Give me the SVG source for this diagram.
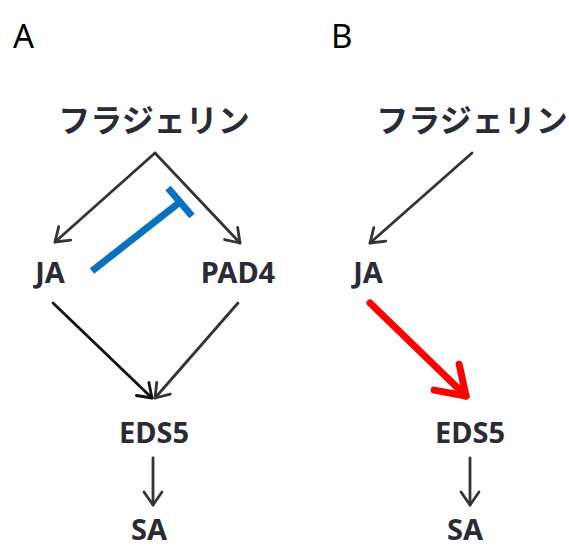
<svg xmlns="http://www.w3.org/2000/svg" width="569" height="547" viewBox="0 0 569 547">
<style>
.lbl{font-family:"Noto Sans","Noto Sans CJK JP",sans-serif;font-weight:bold;fill:#2b2b36;text-anchor:middle}
.jp{font-size:32px}
.en{font-size:29px}
.panel{font-family:"Noto Sans","Liberation Sans",sans-serif;font-size:33px;fill:#000}
.ar{fill:none;stroke:#333338;stroke-width:2.8;stroke-linecap:round}
</style>
<defs>
<marker id="ah" markerUnits="userSpaceOnUse" orient="auto" overflow="visible" markerWidth="20" markerHeight="20" refX="0" refY="0">
<path d="M-13,-9 L0,0 L-13,9" fill="none" stroke="#333338" stroke-width="2.8" stroke-linecap="round" stroke-linejoin="round"/>
</marker>
<marker id="ahk" markerUnits="userSpaceOnUse" orient="auto" overflow="visible" markerWidth="20" markerHeight="20" refX="0" refY="0">
<path d="M-13,-9 L0,0 L-13,9" fill="none" stroke="#111" stroke-width="2.8" stroke-linecap="round" stroke-linejoin="round"/>
</marker>
<marker id="ahr" markerUnits="userSpaceOnUse" orient="auto" overflow="visible" markerWidth="40" markerHeight="40" refX="0" refY="0">
<path d="M-27,-18 L0,0 L-27,18" fill="none" stroke="#ff0000" stroke-width="7" stroke-linecap="round" stroke-linejoin="round"/>
</marker>
</defs>
<text class="panel" x="13" y="48">A</text>
<text class="panel" x="331" y="48">B</text>
<g id="A-flagellin"><text class="lbl jp" x="154" y="132">フラジェリン</text></g>
<g id="A-JA"><text class="lbl en" x="50" y="283">JA</text></g>
<g id="A-PAD4"><text class="lbl en" x="238" y="283">PAD4</text></g>
<g id="A-EDS5"><text class="lbl en" x="154" y="443">EDS5</text></g>
<g id="A-SA"><text class="lbl en" x="149" y="540">SA</text></g>
<g id="B-flagellin"><text class="lbl jp" x="472" y="132">フラジェリン</text></g>
<g id="B-JA"><text class="lbl en" x="368" y="283">JA</text></g>
<g id="B-EDS5"><text class="lbl en" x="470" y="443">EDS5</text></g>
<g id="B-SA"><text class="lbl en" x="465" y="540">SA</text></g>
<g id="connectors">
<path class="ar" d="M155,153 L55,242" marker-end="url(#ah)"/>
<path class="ar" d="M155,153 L240,243" marker-end="url(#ah)"/>
<path d="M92,271 L180,202" fill="none" stroke="#0a70c0" stroke-width="7"/>
<path d="M168,188 L192,216" fill="none" stroke="#0a70c0" stroke-width="7"/>
<path class="ar" d="M53,303 L152,398" marker-end="url(#ahk)" style="stroke:#111"/>
<path class="ar" d="M238,303 L155,398" marker-end="url(#ah)"/>
<path class="ar" d="M153,458 L153,505" marker-end="url(#ah)"/>
<path class="ar" d="M472,153 L370,243" marker-end="url(#ah)"/>
<path d="M370,303 L466,396" fill="none" stroke="#ff0000" stroke-width="7" stroke-linecap="round" marker-end="url(#ahr)"/>
<path class="ar" d="M470,458 L470,505" marker-end="url(#ah)"/>
</g>
</svg>
